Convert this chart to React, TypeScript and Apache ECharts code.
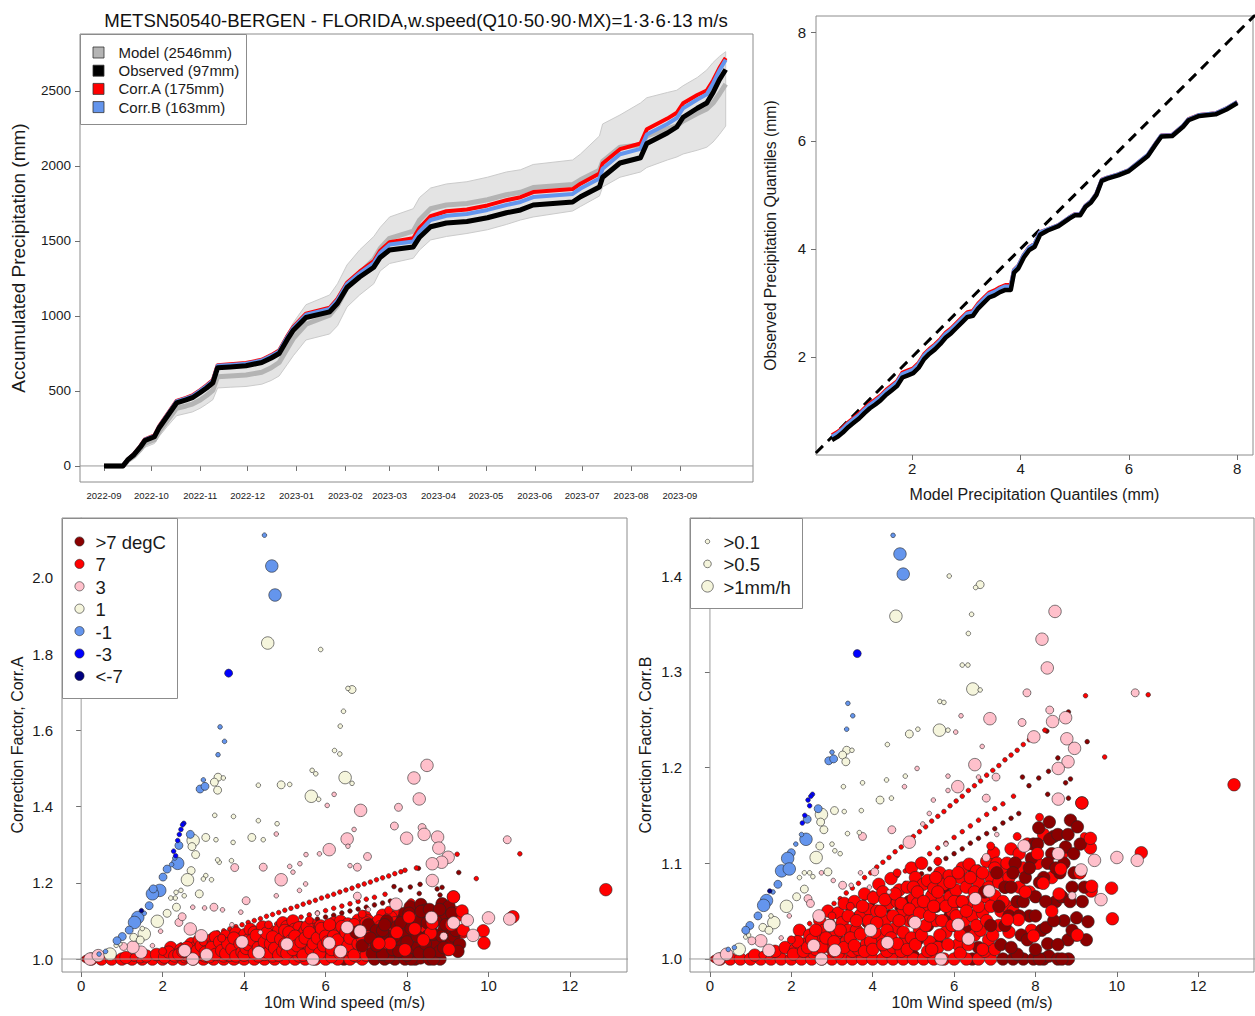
import React, { useEffect, useRef } from "react";
import * as echarts from "echarts";

const FONT = '"Liberation Sans", Arial, Helvetica, sans-serif';
const DAY_MS = 86400000;

const TITLE = "METSN50540-BERGEN - FLORIDA,w.speed(Q10·50·90·MX)=1·3·6·13 m/s";

// ---------- accumulated precipitation (mm) ----------
const DATES = [
  "2022-09-01", "2022-09-13", "2022-09-16", "2022-09-20", "2022-09-24", "2022-09-27",
  "2022-10-03", "2022-10-06", "2022-10-11", "2022-10-17", "2022-10-23", "2022-10-27",
  "2022-11-01", "2022-11-05", "2022-11-09", "2022-11-12", "2022-11-20", "2022-11-30",
  "2022-12-10", "2022-12-16", "2022-12-21", "2022-12-26", "2022-12-30", "2023-01-07",
  "2023-01-22", "2023-01-27", "2023-02-02", "2023-02-10", "2023-02-19", "2023-02-23",
  "2023-03-01", "2023-03-16", "2023-03-20", "2023-03-27", "2023-04-06", "2023-04-19",
  "2023-05-02", "2023-05-14", "2023-05-23", "2023-05-31", "2023-06-25", "2023-06-30",
  "2023-07-12", "2023-07-14", "2023-07-25", "2023-08-07", "2023-08-11", "2023-08-24",
  "2023-08-30", "2023-09-03", "2023-09-12", "2023-09-18", "2023-09-22", "2023-09-26", "2023-09-30",
];
const OBS_ACC = [
  0, 0, 40, 75, 125, 170, 195, 255, 330, 420, 440, 455, 490, 520, 555, 655, 660, 668,
  690, 720, 750, 840, 905, 990, 1027, 1085, 1190, 1260, 1325, 1390, 1440, 1460, 1525, 1595, 1620, 1630,
  1655, 1688, 1707, 1740, 1760, 1795, 1860, 1925, 2020, 2055, 2150, 2220, 2260, 2325, 2385, 2420, 2490, 2575, 2643,
];
const MODEL_ACC = [
  0, 0, 35, 65, 110, 150, 175, 230, 300, 385, 400, 412, 440, 470, 505, 595, 600, 606,
  625, 655, 690, 780, 850, 945, 1005, 1070, 1190, 1285, 1378, 1450, 1518, 1565, 1640, 1715, 1740, 1750,
  1775, 1808, 1825, 1856, 1876, 1908, 1972, 2030, 2125, 2140, 2200, 2248, 2268, 2300, 2350, 2380, 2420, 2480, 2546,
];
const CORRA_ACC = [
  0, 0, 42, 80, 132, 178, 204, 265, 342, 433, 454, 470, 506, 537, 572, 672, 678, 686,
  708, 739, 770, 862, 928, 1015, 1055, 1115, 1222, 1295, 1365, 1435, 1492, 1518, 1588, 1665, 1698, 1710,
  1737, 1772, 1792, 1826, 1846, 1882, 1950, 2016, 2112, 2150, 2245, 2316, 2355, 2418, 2473, 2503, 2570, 2653, 2721,
];
const CORRB_ACC = [
  0, 0, 41, 78, 130, 175, 201, 262, 338, 430, 450, 466, 502, 533, 568, 668, 673, 681,
  703, 734, 764, 856, 921, 1008, 1047, 1106, 1213, 1284, 1352, 1420, 1476, 1496, 1563, 1640, 1668, 1680,
  1707, 1740, 1760, 1793, 1814, 1850, 1916, 1982, 2078, 2114, 2210, 2280, 2320, 2385, 2443, 2478, 2550, 2636, 2709,
];
const BAND_LOW = [
  0, 0, 28, 52, 92, 125, 150, 198, 262, 335, 350, 360, 385, 412, 442, 520, 525, 530,
  545, 570, 600, 675, 735, 840, 880, 935, 1060, 1140, 1215, 1300, 1350, 1385, 1440, 1507, 1530, 1550,
  1575, 1610, 1640, 1660, 1700, 1730, 1800, 1860, 1925, 1960, 1990, 2040, 2060, 2080, 2105, 2125, 2160, 2210, 2266,
];
const BAND_HIGH = [
  0, 0, 45, 82, 130, 172, 200, 262, 340, 432, 452, 466, 500, 535, 572, 672, 680, 688,
  710, 745, 785, 880, 955, 1075, 1140, 1215, 1340, 1440, 1530, 1590, 1660, 1715, 1790, 1853, 1880, 1895,
  1925, 1960, 1975, 2010, 2040, 2080, 2200, 2280, 2340, 2420, 2455, 2490, 2505, 2535, 2590, 2640, 2690, 2730, 2762,
];
const MONTH_TICKS = [
  "2022-09", "2022-10", "2022-11", "2022-12", "2023-01", "2023-02", "2023-03",
  "2023-04", "2023-05", "2023-06", "2023-07", "2023-08", "2023-09",
];
const ACC_TICKS = [0, 500, 1000, 1500, 2000, 2500];
const ACC_LEGEND_LABELS = ["Model (2546mm)", "Observed (97mm)", "Corr.A (175mm)", "Corr.B (163mm)"];

// ---------- quantile-quantile (mm) ----------
const QQ_MODEL = [
  0.52, 0.62, 0.72, 0.82, 0.92, 1.02, 1.12, 1.22, 1.32, 1.42, 1.52, 1.62, 1.72, 1.82, 1.92, 2.02, 2.12,
  2.22, 2.32, 2.42, 2.52, 2.62, 2.72, 2.82, 2.92, 3.02, 3.12, 3.22, 3.32, 3.42, 3.52, 3.62, 3.72, 3.82,
  3.88, 3.96, 4.06, 4.16, 4.26, 4.36, 4.5, 4.7, 4.9, 5.0, 5.1, 5.2, 5.3, 5.4, 5.5, 5.6,
  5.8, 6.0, 6.2, 6.35, 6.5, 6.6, 6.8, 7.0, 7.1, 7.3, 7.6, 7.8, 8.0,
];
const QQ_OBS = [
  0.46, 0.52, 0.6, 0.7, 0.78, 0.86, 0.96, 1.05, 1.12, 1.2, 1.3, 1.38, 1.46, 1.62, 1.66, 1.7, 1.8,
  1.96, 2.06, 2.14, 2.24, 2.36, 2.44, 2.54, 2.64, 2.74, 2.76, 2.9, 3.0, 3.1, 3.14, 3.2, 3.24, 3.24,
  3.56, 3.64, 3.84, 3.98, 4.04, 4.26, 4.34, 4.42, 4.56, 4.62, 4.62, 4.78, 4.86, 5.0, 5.26, 5.3,
  5.36, 5.44, 5.6, 5.72, 5.94, 6.08, 6.09, 6.26, 6.38, 6.46, 6.49, 6.58, 6.7,
];
const QQ_CORRA = [
  0.55, 0.61, 0.69, 0.79, 0.87, 0.95, 1.05, 1.14, 1.21, 1.29, 1.39, 1.47, 1.55, 1.71, 1.75, 1.79, 1.89,
  2.05, 2.15, 2.23, 2.33, 2.45, 2.53, 2.63, 2.73, 2.83, 2.85, 2.99, 3.09, 3.19, 3.23, 3.29, 3.33, 3.33,
  3.61, 3.69, 3.89, 4.03, 4.09, 4.31, 4.36, 4.44, 4.58, 4.64, 4.64, 4.8, 4.88, 5.02, 5.28, 5.32,
  5.38, 5.46, 5.62, 5.74, 5.96, 6.1, 6.11, 6.28, 6.4, 6.48, 6.51, 6.6, 6.72,
];
const QQ_CORRB = [
  0.52, 0.58, 0.66, 0.76, 0.84, 0.92, 1.02, 1.11, 1.18, 1.26, 1.36, 1.44, 1.52, 1.68, 1.72, 1.76, 1.86,
  2.02, 2.12, 2.2, 2.3, 2.42, 2.5, 2.6, 2.7, 2.8, 2.82, 2.96, 3.06, 3.16, 3.2, 3.26, 3.3, 3.3,
  3.6, 3.68, 3.88, 4.02, 4.08, 4.3, 4.355, 4.435, 4.575, 4.635, 4.635, 4.795, 4.875, 5.015, 5.275, 5.315,
  5.375, 5.455, 5.615, 5.735, 5.955, 6.095, 6.105, 6.275, 6.395, 6.475, 6.505, 6.595, 6.715,
];
const QQ_TICKS = [2, 4, 6, 8];

// ---------- correction factor vs wind: [wind m/s, factor, intensity class 1..3] ----------
const WIND_TICKS = [0, 2, 4, 6, 8, 10, 12];
const CORRA_TICKS = [1.0, 1.2, 1.4, 1.6, 1.8, 2.0];
const CORRB_TICKS = [1.0, 1.1, 1.2, 1.3, 1.4];
const TEMP_LABELS = [">7 degC", "7", "3", "1", "-1", "-3", "<-7"];
const RAIN_LABELS = [">0.1", ">0.5", ">1mm/h"];

// warm events: the same in both corrections
const STREAK_RED = [
  [1.7, 1.01, 1], [1.85, 1.015, 1], [2.0, 1.021, 1], [2.15, 1.026, 1], [2.3, 1.031, 1], [2.45, 1.037, 1],
  [2.6, 1.042, 1], [2.75, 1.047, 1], [2.9, 1.053, 1], [3.05, 1.058, 1], [3.2, 1.063, 1], [3.35, 1.069, 1],
  [3.5, 1.074, 1], [3.65, 1.079, 1], [3.8, 1.085, 1], [3.95, 1.09, 1], [4.1, 1.096, 1], [4.25, 1.101, 1],
  [4.4, 1.106, 1], [4.55, 1.112, 1], [4.7, 1.117, 1], [4.85, 1.122, 1], [5.0, 1.128, 1], [5.15, 1.133, 1],
  [5.3, 1.138, 1], [5.45, 1.144, 1], [5.6, 1.149, 1], [5.75, 1.154, 1], [5.9, 1.16, 1], [6.05, 1.165, 1],
  [6.2, 1.17, 1], [6.35, 1.176, 1], [6.5, 1.181, 1], [6.65, 1.186, 1], [6.8, 1.192, 1], [6.95, 1.197, 1],
  [7.1, 1.202, 1], [7.25, 1.208, 1], [7.4, 1.213, 1], [7.55, 1.218, 1], [7.7, 1.224, 1], [7.85, 1.229, 1],
  [7.95, 1.233, 1],
  [2.0, 1.011, 1], [2.2, 1.017, 1], [2.4, 1.023, 1], [2.6, 1.029, 1], [2.8, 1.034, 1], [3.0, 1.04, 1],
  [3.2, 1.046, 1], [3.4, 1.052, 1], [3.6, 1.058, 1], [3.8, 1.063, 1], [4.0, 1.069, 1], [4.2, 1.075, 1],
  [4.4, 1.081, 1], [4.6, 1.087, 1], [4.8, 1.092, 1], [5.0, 1.098, 1], [5.2, 1.104, 1], [5.4, 1.11, 1],
  [5.6, 1.116, 1], [5.8, 1.121, 1], [6.0, 1.127, 1], [6.2, 1.133, 1], [6.4, 1.139, 1], [6.6, 1.145, 1],
  [6.8, 1.151, 1], [7.0, 1.157, 1], [7.2, 1.162, 1], [7.46, 1.17, 1],
  [9.23, 1.275, 1], [10.77, 1.276, 1], [9.7, 1.211, 1], [8.23, 1.239, 1],
];
const STREAK_DARK = [
  [2.2, 1.01, 1], [2.4, 1.016, 1], [2.6, 1.021, 1], [2.8, 1.026, 1], [3.0, 1.031, 1], [3.2, 1.037, 1],
  [3.4, 1.042, 1], [3.6, 1.047, 1], [3.8, 1.052, 1], [4.0, 1.058, 1], [4.2, 1.063, 1], [4.4, 1.068, 1],
  [4.6, 1.073, 1], [4.8, 1.079, 1], [5.0, 1.084, 1], [5.2, 1.089, 1], [5.4, 1.094, 1], [5.6, 1.1, 1],
  [5.8, 1.105, 1], [6.0, 1.11, 1], [6.2, 1.115, 1], [6.4, 1.121, 1], [6.6, 1.126, 1], [6.8, 1.131, 1],
  [7.0, 1.136, 1], [7.2, 1.142, 1], [7.4, 1.147, 1], [7.59, 1.152, 1],
  [2.6, 1.01, 1], [2.8, 1.014, 1], [3.0, 1.018, 1], [3.2, 1.023, 1], [3.4, 1.027, 1], [3.6, 1.031, 1],
  [3.8, 1.036, 1], [4.0, 1.04, 1], [4.2, 1.044, 1], [4.4, 1.049, 1], [4.6, 1.053, 1], [4.8, 1.057, 1],
  [5.0, 1.062, 1], [5.2, 1.066, 1], [5.4, 1.07, 1], [5.6, 1.075, 1], [5.8, 1.079, 1], [6.0, 1.083, 1],
  [6.2, 1.088, 1], [6.4, 1.092, 1], [6.6, 1.096, 1], [6.8, 1.101, 1], [7.0, 1.105, 1],
  [9.27, 1.227, 1], [8.81, 1.258, 1], [8.28, 1.238, 1], [8.08, 1.189, 1], [8.32, 1.196, 1], [8.74, 1.184, 1],
  [7.84, 1.181, 1], [8.86, 1.188, 1], [8.3, 1.172, 1], [8.81, 1.168, 1], [8.55, 1.21, 1], [7.68, 1.19, 1],
];
// warmest events at moderate wind, partly hidden under the 7 degC cloud
const WARM_DARK_LOW = [
  [3.8, 1.004, 3], [4.3, 1.012, 3], [4.7, 1.045, 3], [4.9, 1.06, 3], [5.0, 1.003, 3], [5.1, 1.02, 3],
  [5.35, 1.035, 3], [5.55, 1.055, 3], [5.6, 1.015, 3], [5.75, 1.075, 3], [5.9, 1.045, 3], [6.1, 1.06, 3],
  [6.2, 1.018, 3], [6.3, 1.03, 3], [6.45, 1.085, 3], [6.6, 1.012, 3], [6.45, 1.0, 3],
];
const WARM_RED = [
  [0.05, 1.0, 1], [0.12, 1.0, 2],
  [0.25, 1.0, 3], [0.5, 1.0, 3], [0.75, 1.0, 3], [1.0, 1.0, 3], [1.25, 1.0, 3], [1.5, 1.0, 3], [1.75, 1.0, 3],
  [2.0, 1.0, 3], [2.25, 1.0, 3], [2.5, 1.0, 3], [2.75, 1.0, 3], [3.0, 1.0, 3], [3.25, 1.0, 3], [3.5, 1.0, 3],
  [3.75, 1.0, 3], [4.0, 1.0, 3], [4.25, 1.0, 3], [4.5, 1.0, 3], [4.75, 1.0, 3], [5.0, 1.0, 3], [5.25, 1.0, 3],
  [5.5, 1.0, 3], [5.75, 1.0, 3], [6.0, 1.0, 3], [6.3, 1.0, 3], [6.6, 1.0, 3], [6.9, 1.0, 3],
  [1.1, 1.004, 3], [1.45, 1.006, 3], [1.6, 1.008, 3], [1.85, 1.012, 3], [2.1, 1.01, 3], [2.35, 1.016, 3],
  [2.55, 1.006, 3], [2.2, 1.03, 3], [2.45, 1.025, 3], [2.6, 1.01, 3], [2.65, 1.02, 3], [2.7, 1.04, 3],
  [2.8, 1.03, 3], [2.9, 1.05, 3], [2.95, 1.012, 3], [3.05, 1.008, 3], [3.1, 1.026, 3], [3.15, 1.048, 3],
  [3.25, 1.038, 3], [3.3, 1.058, 3], [3.35, 1.018, 3], [3.4, 1.03, 3], [3.5, 1.008, 3], [3.55, 1.06, 3],
  [3.6, 1.03, 3], [3.65, 1.01, 3], [3.7, 1.046, 3], [3.8, 1.068, 3], [3.85, 1.016, 3], [3.9, 1.052, 3],
  [3.95, 1.034, 3], [4.02, 1.064, 3], [4.1, 1.05, 3], [4.15, 1.078, 3], [4.2, 1.022, 3], [4.25, 1.07, 3],
  [4.3, 1.04, 3], [4.35, 1.008, 3], [4.4, 1.058, 3], [4.45, 1.084, 3], [4.5, 1.012, 3], [4.55, 1.032, 3],
  [4.6, 1.06, 3], [4.65, 1.072, 3], [4.7, 1.008, 3], [4.75, 1.05, 3], [4.8, 1.02, 3], [4.85, 1.075, 3],
  [4.9, 1.04, 3], [4.95, 1.095, 3], [5.0, 1.063, 3], [5.05, 1.085, 3], [5.1, 1.058, 3], [5.15, 1.03, 3],
  [5.2, 1.1, 3], [5.24, 1.078, 3], [5.3, 1.05, 3], [5.35, 1.008, 3], [5.35, 1.082, 3], [5.4, 1.018, 3],
  [5.45, 1.066, 3], [5.5, 1.074, 3], [5.55, 1.04, 3], [5.6, 1.012, 3], [5.65, 1.09, 3], [5.7, 1.06, 3],
  [5.75, 1.078, 3], [5.8, 1.028, 3], [5.88, 1.087, 3], [5.9, 1.065, 3], [5.95, 1.05, 3], [6.0, 1.035, 3],
  [6.05, 1.072, 3], [6.1, 1.015, 3], [6.15, 1.085, 3], [6.15, 1.006, 3], [6.2, 1.095, 3], [6.25, 1.04, 3],
  [6.3, 1.075, 3], [6.37, 1.099, 3], [6.4, 1.06, 3], [6.45, 1.045, 3], [6.5, 1.025, 3], [6.55, 1.092, 3],
  [6.6, 1.08, 3], [6.65, 1.03, 3], [6.7, 1.048, 3], [6.75, 1.065, 3], [6.75, 1.008, 3], [6.8, 1.102, 3],
  [6.85, 1.02, 3], [6.9, 1.085, 3], [6.97, 1.111, 3], [7.0, 1.066, 3], [7.05, 1.1, 3], [7.1, 1.035, 3],
  [7.15, 1.05, 3], [7.2, 1.09, 3], [7.25, 1.075, 3], [7.3, 1.055, 3], [7.35, 1.028, 3], [7.4, 1.115, 3],
  [7.5, 1.1, 3], [7.6, 1.075, 3], [7.8, 1.12, 3], [8.05, 1.1, 3], [8.2, 1.13, 3], [8.4, 1.085, 3],
  [8.65, 1.11, 3], [9.0, 1.025, 3], [9.09, 1.09, 3], [9.14, 1.163, 3], [9.35, 1.116, 3], [9.37, 1.071, 3],
  [9.87, 1.074, 3], [9.89, 1.042, 3], [10.6, 1.111, 3], [12.88, 1.182, 3],
  [2.05, 1.005, 3], [2.15, 1.018, 3], [2.3, 1.008, 3], [2.4, 1.012, 3], [2.5, 1.02, 3], [2.6, 1.03, 3],
  [2.75, 1.012, 3], [2.85, 1.022, 3], [2.95, 1.035, 3], [3.05, 1.018, 3], [3.15, 1.006, 3], [3.2, 1.03, 3],
  [3.3, 1.012, 3], [3.4, 1.045, 3], [3.45, 1.022, 3], [3.55, 1.014, 3], [3.6, 1.04, 3], [3.7, 1.026, 3],
  [3.75, 1.055, 3], [3.8, 1.008, 3], [3.9, 1.04, 3], [3.95, 1.018, 3], [4.0, 1.01, 3], [4.05, 1.028, 3],
  [4.1, 1.038, 3], [4.2, 1.05, 3], [4.25, 1.015, 3], [4.3, 1.062, 3], [4.35, 1.03, 3], [4.45, 1.022, 3],
  [4.5, 1.045, 3], [4.55, 1.068, 3], [4.6, 1.016, 3], [4.65, 1.04, 3], [4.7, 1.058, 3], [4.75, 1.028, 3],
  [4.85, 1.01, 3], [4.9, 1.052, 3], [4.95, 1.022, 3], [5.0, 1.075, 3], [5.0, 1.04, 3], [5.05, 1.015, 3],
  [5.1, 1.07, 3], [5.15, 1.048, 3], [5.2, 1.025, 3], [5.25, 1.06, 3], [5.3, 1.035, 3], [5.4, 1.045, 3],
  [5.45, 1.01, 3], [5.5, 1.055, 3], [5.55, 1.085, 3], [5.6, 1.07, 3], [5.65, 1.025, 3], [5.7, 1.04, 3],
  [5.8, 1.055, 3], [5.85, 1.015, 3], [5.9, 1.08, 3], [5.95, 1.035, 3], [6.0, 1.06, 3], [6.05, 1.045, 3],
  [6.1, 1.09, 3], [6.15, 1.025, 3], [6.2, 1.06, 3], [6.3, 1.05, 3], [6.35, 1.015, 3], [6.4, 1.085, 3],
  [6.5, 1.07, 3], [6.55, 1.035, 3], [6.6, 1.055, 3], [6.7, 1.09, 3], [6.7, 1.01, 3], [6.8, 1.04, 3],
  [6.85, 1.075, 3], [6.9, 1.055, 3], [6.95, 1.025, 3], [7.0, 1.095, 3], [7.0, 1.01, 3], [7.1, 1.08, 3],
  [7.2, 1.06, 3], [7.3, 1.1, 3], [7.35, 1.085, 3], [7.45, 1.05, 3], [7.6, 1.11, 3], [7.7, 1.095, 3],
  [7.85, 1.07, 3], [7.9, 1.03, 3],
  [1.3, 1.004, 2], [2.0, 1.02, 2], [3.0, 1.045, 2], [3.45, 1.055, 2], [4.6, 1.09, 2], [5.6, 1.102, 2],
  [6.9, 1.118, 2], [7.55, 1.128, 2], [8.1, 1.148, 2], [9.2, 1.128, 2],
];
const WARM_DARK = [
  [7.2, 1.0, 3], [7.45, 1.0, 3], [7.7, 1.0, 3], [7.95, 1.0, 3], [8.2, 1.0, 3], [8.33, 1.003, 3],
  [8.55, 1.0, 3], [8.81, 1.0, 3], [7.55, 1.005, 3], [8.1, 1.0, 3], [8.65, 1.0, 3],
  [6.75, 1.07, 3], [6.9, 1.035, 3], [7.05, 1.09, 3], [7.15, 1.015, 3], [7.25, 1.075, 3], [7.35, 1.045, 3],
  [7.4, 1.012, 3], [7.5, 1.1, 3], [7.55, 1.06, 3], [7.65, 1.025, 3], [7.75, 1.085, 3], [7.85, 1.045, 3],
  [7.9, 1.105, 3], [7.95, 1.12, 3], [8.0, 1.065, 3], [8.0, 1.01, 3], [8.08, 1.137, 3], [8.15, 1.03, 3],
  [8.2, 1.085, 3], [8.26, 1.033, 3], [8.3, 1.016, 3], [8.34, 1.143, 3], [8.4, 1.11, 3], [8.45, 1.128, 3],
  [8.5, 1.06, 3], [8.6, 1.09, 3], [8.7, 1.04, 3], [8.74, 1.117, 3], [8.8, 1.02, 3], [8.86, 1.145, 3],
  [8.9, 1.075, 3], [8.94, 1.11, 3], [9.01, 1.043, 3], [9.03, 1.138, 3], [9.15, 1.06, 3], [9.29, 1.039, 3],
  [7.1, 1.055, 3], [7.25, 1.035, 3], [7.4, 1.075, 3], [7.45, 1.09, 3], [7.6, 1.045, 3], [7.7, 1.06, 3],
  [7.8, 1.02, 3], [7.85, 1.095, 3], [8.0, 1.045, 3], [8.05, 1.12, 3], [8.1, 1.08, 3], [8.25, 1.06, 3],
  [8.3, 1.1, 3], [8.35, 1.125, 3], [8.45, 1.04, 3], [8.5, 1.095, 3], [8.55, 1.13, 3], [8.65, 1.065, 3],
  [8.7, 1.1, 3], [8.8, 1.13, 3], [8.85, 1.06, 3], [8.95, 1.09, 3], [9.1, 1.12, 3], [9.2, 1.075, 3],
  [9.25, 1.02, 3], [8.55, 1.015, 3], [8.9, 1.03, 3],
];
// 7 degC events at strong wind, lying over the warmest ones
const WARM_RED_TOP = [
  [9.35, 1.126, 3], [9.38, 1.076, 3], [9.03, 1.025, 3], [8.58, 1.068, 3], [8.19, 1.079, 3], [7.95, 1.024, 3],
  [7.58, 1.041, 3], [7.31, 1.041, 3], [8.62, 1.094, 3], [7.75, 1.07, 3], [8.4, 1.05, 3], [8.05, 1.11, 3],
  [9.14, 1.163, 3], [9.09, 1.09, 3],
];

// cooler events: Corr.A
const PINK_A = [
  [8.49, 1.508, 3], [8.17, 1.475, 3], [8.3, 1.42, 3], [7.79, 1.398, 2], [6.86, 1.39, 3], [7.69, 1.349, 2],
  [7.99, 1.317, 3], [8.37, 1.345, 2], [8.42, 1.327, 3], [8.75, 1.32, 3], [8.78, 1.291, 3], [6.53, 1.315, 3],
  [6.09, 1.287, 3], [7.03, 1.269, 2], [9.01, 1.267, 3], [8.85, 1.254, 3], [8.62, 1.25, 3], [10.46, 1.313, 2],
  [8.62, 1.206, 3], [6.78, 1.241, 2], [4.91, 1.208, 3], [4.47, 1.241, 2], [3.77, 1.24, 2], [4.05, 1.153, 2],
  [3.26, 1.136, 2], [2.68, 1.079, 3], [2.95, 1.061, 3], [2.4, 1.096, 2], [2.48, 1.111, 2], [10.0, 1.108, 3],
  [10.52, 1.105, 3], [9.48, 1.102, 3], [9.62, 1.062, 3], [9.14, 1.095, 3], [7.73, 1.144, 3], [8.6, 1.109, 3],
  [6.78, 1.165, 2], [6.09, 1.042, 3], [6.37, 1.02, 3], [6.53, 1.083, 3], [6.85, 1.073, 3], [5.05, 1.039, 3],
  [5.69, 1.0, 3], [2.74, 1.0, 3], [0.22, 1.0, 3], [0.42, 1.009, 3], [1.47, 1.018, 3], [1.27, 1.031, 3],
  [1.04, 1.033, 2], [2.54, 1.022, 3], [3.08, 1.011, 3], [4.36, 1.017, 3], [8.9, 1.06, 2], [3.95, 1.045, 3],
  [6.21, 1.432, 1], [6.04, 1.403, 1], [6.7, 1.34, 1], [6.55, 1.296, 1], [5.85, 1.276, 1], [5.52, 1.274, 1],
  [5.37, 1.25, 1], [5.12, 1.243, 1], [4.79, 1.328, 1], [4.79, 1.166, 1], [5.36, 1.18, 1], [5.51, 1.197, 1],
  [3.92, 1.123, 1], [3.47, 1.129, 1], [3.03, 1.134, 1], [2.74, 1.136, 1], [1.95, 1.073, 1], [1.75, 1.035, 1],
  [5.2, 1.228, 1], [6.6, 1.245, 1], [7.05, 1.13, 1], [5.8, 1.12, 1], [4.4, 1.07, 1], [3.7, 1.09, 1],
];
const BEIGE_A = [
  [4.58, 1.829, 3], [5.88, 1.812, 1], [6.65, 1.707, 2], [6.55, 1.71, 1], [6.44, 1.65, 1], [6.36, 1.611, 1],
  [6.22, 1.547, 1], [6.35, 1.538, 1], [5.67, 1.495, 1], [5.76, 1.486, 1], [6.48, 1.476, 3], [6.65, 1.461, 1],
  [5.65, 1.427, 3], [5.83, 1.419, 1], [4.91, 1.457, 2], [5.12, 1.458, 1], [4.35, 1.456, 1], [3.36, 1.477, 2],
  [3.27, 1.464, 2], [3.35, 1.443, 2], [3.49, 1.475, 1], [3.28, 1.377, 1], [3.74, 1.374, 1], [4.19, 1.319, 2],
  [4.47, 1.313, 1], [4.35, 1.363, 1], [4.81, 1.355, 1], [2.75, 1.311, 3], [3.06, 1.319, 2], [3.31, 1.313, 1],
  [2.81, 1.274, 2], [2.72, 1.295, 2], [2.7, 1.232, 2], [2.61, 1.208, 3], [2.9, 1.171, 2], [2.53, 1.166, 1],
  [2.31, 1.16, 1], [2.34, 1.136, 2], [1.87, 1.099, 3], [2.11, 1.12, 2], [1.55, 1.066, 3], [1.29, 1.057, 2],
  [0.71, 1.013, 3], [0.86, 1.036, 1], [3.39, 1.254, 1], [3.69, 1.258, 1], [3.06, 1.219, 1], [3.2, 1.208, 1],
  [3.73, 1.306, 1], [2.33, 1.175, 1], [2.2, 1.16, 1], [1.5, 1.08, 1], [1.45, 1.05, 2], [0.95, 1.04, 1],
  [2.45, 1.18, 1], [3.0, 1.21, 1], [3.35, 1.26, 1],
];
const CBLUE_A = [
  [4.5, 2.112, 1], [4.68, 2.031, 3], [4.76, 1.955, 3], [2.92, 1.446, 2], [3.04, 1.453, 2], [3.0, 1.47, 1],
  [3.41, 1.609, 1], [3.52, 1.571, 1], [3.36, 1.536, 1], [2.37, 1.251, 3], [2.4, 1.298, 2], [2.68, 1.327, 2],
  [2.01, 1.215, 2], [1.93, 1.18, 3], [1.75, 1.171, 3], [1.77, 1.184, 2], [1.67, 1.14, 2], [1.39, 1.109, 3],
  [1.31, 1.096, 3], [1.18, 1.076, 2], [1.01, 1.059, 2], [0.88, 1.048, 2], [0.44, 1.013, 1], [2.11, 1.236, 2],
  [2.22, 1.248, 1], [2.3, 1.265, 1], [1.55, 1.12, 1], [0.6, 1.02, 1],
];
const BLUE_A = [
  [3.62, 1.75, 2], [2.52, 1.356, 1], [2.49, 1.352, 1], [2.41, 1.327, 1], [2.45, 1.34, 1], [2.37, 1.311, 1],
  [2.27, 1.283, 1], [2.32, 1.271, 1],
];
const NAVY_A = [[1.48, 1.127, 1]];

// cooler events: Corr.B
const PINK_B = [
  [8.48, 1.363, 3], [8.16, 1.334, 3], [8.29, 1.304, 3], [7.79, 1.278, 2], [6.88, 1.251, 3], [7.67, 1.247, 2],
  [7.96, 1.232, 3], [8.35, 1.26, 2], [8.42, 1.248, 3], [8.74, 1.252, 3], [8.77, 1.23, 3], [6.51, 1.203, 3],
  [6.09, 1.18, 3], [7.03, 1.19, 2], [8.96, 1.22, 3], [8.8, 1.206, 3], [8.56, 1.199, 3], [10.45, 1.278, 2],
  [8.56, 1.167, 3], [6.79, 1.168, 2], [4.9, 1.122, 3], [4.47, 1.135, 2], [3.75, 1.128, 2], [4.05, 1.091, 2],
  [3.26, 1.077, 2], [2.68, 1.045, 3], [2.94, 1.035, 3], [2.41, 1.063, 2], [2.47, 1.058, 2], [10.0, 1.106, 3],
  [10.5, 1.103, 3], [9.45, 1.103, 3], [9.61, 1.062, 3], [9.12, 1.093, 3], [7.72, 1.118, 3], [8.56, 1.11, 3],
  [6.79, 1.106, 2], [6.1, 1.036, 3], [6.35, 1.021, 3], [6.52, 1.063, 3], [6.86, 1.071, 3], [5.04, 1.038, 3],
  [5.68, 1.0, 3], [2.74, 1.0, 3], [0.22, 1.0, 3], [0.41, 1.005, 3], [1.45, 1.009, 3], [1.25, 1.019, 3],
  [1.03, 1.019, 2], [2.55, 1.014, 3], [3.07, 1.009, 3], [4.36, 1.017, 3], [8.9, 1.066, 2], [3.95, 1.03, 3],
  [6.17, 1.254, 1], [6.04, 1.237, 1], [6.69, 1.222, 1], [5.85, 1.191, 1], [5.85, 1.176, 1], [5.49, 1.166, 1],
  [5.39, 1.152, 1], [5.23, 1.141, 1], [4.78, 1.18, 1], [5.09, 1.199, 1], [3.92, 1.075, 1], [3.47, 1.077, 1],
  [3.03, 1.082, 1], [2.74, 1.09, 1], [1.95, 1.045, 1], [1.75, 1.022, 1], [6.6, 1.19, 1], [7.05, 1.13, 1],
  [5.8, 1.12, 1], [4.4, 1.07, 1], [3.7, 1.09, 1],
];
const BEIGE_B = [
  [4.57, 1.358, 3], [5.88, 1.4, 1], [6.64, 1.391, 2], [6.53, 1.388, 1], [6.43, 1.36, 1], [6.35, 1.34, 1],
  [6.2, 1.307, 1], [6.34, 1.307, 1], [5.65, 1.269, 1], [5.75, 1.268, 1], [6.46, 1.282, 3], [6.64, 1.281, 1],
  [5.64, 1.239, 3], [5.85, 1.239, 1], [4.9, 1.235, 2], [5.11, 1.24, 1], [4.36, 1.224, 1], [3.36, 1.218, 2],
  [3.26, 1.213, 2], [3.34, 1.206, 2], [3.49, 1.218, 1], [3.28, 1.18, 1], [3.75, 1.184, 1], [4.18, 1.166, 2],
  [4.46, 1.168, 1], [4.34, 1.187, 1], [4.8, 1.191, 1], [2.74, 1.151, 3], [3.06, 1.155, 2], [3.3, 1.154, 1],
  [2.8, 1.135, 2], [2.72, 1.143, 2], [2.7, 1.118, 2], [2.61, 1.106, 3], [2.9, 1.091, 2], [2.53, 1.086, 1],
  [2.32, 1.073, 2], [2.13, 1.065, 2], [1.88, 1.055, 3], [1.57, 1.038, 3], [1.3, 1.033, 2], [0.72, 1.01, 3],
  [0.88, 1.023, 1], [3.38, 1.131, 1], [3.67, 1.132, 1], [3.07, 1.113, 1], [3.2, 1.11, 1], [3.72, 1.155, 1],
  [2.32, 1.09, 1], [2.45, 1.09, 1], [2.2, 1.085, 1], [1.5, 1.045, 1], [1.45, 1.03, 2], [0.95, 1.025, 1],
  [3.0, 1.12, 1],
];
const CBLUE_B = [
  [4.5, 1.4425, 1], [4.67, 1.423, 3], [4.75, 1.402, 3], [2.92, 1.207, 2], [3.04, 1.209, 2], [3.0, 1.216, 1],
  [3.39, 1.267, 1], [3.51, 1.254, 1], [3.36, 1.24, 1], [2.66, 1.157, 2], [2.39, 1.146, 2], [2.36, 1.125, 3],
  [2.0, 1.111, 2], [1.91, 1.105, 3], [1.76, 1.092, 3], [1.95, 1.094, 3], [1.67, 1.078, 2], [1.39, 1.061, 3],
  [1.32, 1.056, 3], [1.18, 1.045, 2], [0.98, 1.035, 2], [0.88, 1.03, 2], [0.45, 1.01, 1], [2.11, 1.12, 1],
  [2.25, 1.13, 1], [1.55, 1.07, 1], [0.6, 1.012, 1],
];
const BLUE_B = [
  [3.62, 1.319, 2], [2.52, 1.172, 1], [2.48, 1.17, 1], [2.41, 1.166, 1], [2.45, 1.16, 1], [2.27, 1.142, 1],
  [2.33, 1.15, 1],
];
const NAVY_B = [[1.47, 1.071, 1]];

// ---------- styling ----------
const TEMP_COLORS = ["#8B0000", "#FF0000", "#FFC0CB", "#F5F5DC", "#6495ED", "#0000FF", "#000080"];
const ACC_COLORS = ["#b4b4b4", "#000000", "#FF0000", "#6495ED"];
const SIZE_PX = [0, 4.6, 8, 12.5];
const BOX = "#8c8c8c";
const INK = "#1a1a1a";

function toMs(s: string) {
  const [y, m, d] = s.split("-").map(Number);
  return new Date(y, m - 1, d || 1).getTime();
}

function fmtMonth(v: number) {
  const d = new Date(v);
  return `${d.getFullYear()}-${String(d.getMonth() + 1).padStart(2, "0")}`;
}

function axis(ticks: number[], fontSize: number, margin: number, formatter?: any) {
  return {
    axisLine: { show: false },
    axisTick: { show: true, customValues: ticks, length: 5, lineStyle: { color: "#6f6f6f", width: 1 } },
    axisLabel: {
      customValues: ticks,
      fontSize,
      color: INK,
      fontFamily: FONT,
      margin,
      formatter: formatter || ((v: number) => String(v)),
    },
    splitLine: { show: false },
  };
}

function nameStyle(size: number) {
  return { fontSize: size, color: INK, fontFamily: FONT };
}

function scatter(idx: number, data: number[][], color: string) {
  return {
    type: "scatter",
    xAxisIndex: idx,
    yAxisIndex: idx,
    data,
    symbol: "circle",
    symbolSize: (v: number[]) => SIZE_PX[v[2]],
    itemStyle: { color, borderColor: "#262626", borderWidth: 0.6, opacity: 1 },
    silent: true,
  };
}

function refLine(idx: number, data: number[][], color = "#9c9c9c", width = 1, type: any = "solid") {
  return {
    type: "line",
    xAxisIndex: idx,
    yAxisIndex: idx,
    data,
    symbol: "none",
    silent: true,
    lineStyle: { color, width, type },
  };
}

function panelSeries(idx: number, pink: number[][], beige: number[][], cblue: number[][], blue: number[][], navy: number[][]) {
  return [
    scatter(idx, STREAK_DARK, TEMP_COLORS[0]),
    scatter(idx, STREAK_RED, TEMP_COLORS[1]),
    scatter(idx, WARM_DARK_LOW, TEMP_COLORS[0]),
    scatter(idx, WARM_RED, TEMP_COLORS[1]),
    scatter(idx, WARM_DARK, TEMP_COLORS[0]),
    scatter(idx, WARM_RED_TOP, TEMP_COLORS[1]),
    scatter(idx, pink, TEMP_COLORS[2]),
    scatter(idx, beige, TEMP_COLORS[3]),
    scatter(idx, cblue, TEMP_COLORS[4]),
    scatter(idx, blue, TEMP_COLORS[5]),
    scatter(idx, navy, TEMP_COLORS[6]),
    refLine(idx, [[-5, 1], [20, 1]]),
    refLine(idx, [[0, 0.5], [0, 3]]),
  ];
}

function buildOption() {
  const t = DATES.map(toMs);
  const start = toMs(DATES[0]);
  const xMin = start - 15.2 * DAY_MS;
  const xMax = start + 411.3 * DAY_MS;
  const monthMs = MONTH_TICKS.map(toMs);
  const pair = (vals: number[]) => t.map((x, i) => [x, vals[i]]);
  const qq = (vals: number[]) => QQ_MODEL.map((x, i) => [x, vals[i]]);

  const accLine = (data: number[][], color: string, width: number) => ({
    type: "line",
    xAxisIndex: 0,
    yAxisIndex: 0,
    data,
    symbol: "none",
    silent: true,
    lineStyle: { color, width, join: "round" },
  });

  const qqLine = (data: number[][], color: string, width: number) => ({
    type: "line",
    xAxisIndex: 1,
    yAxisIndex: 1,
    data,
    symbol: "none",
    silent: true,
    lineStyle: { color, width, join: "round" },
  });

  // model spread: polygon between the low and high envelopes
  const bandSeries = {
    type: "custom",
    xAxisIndex: 0,
    yAxisIndex: 0,
    silent: true,
    data: [[t[0], BAND_LOW[0]]],
    renderItem: (_p: any, api: any) => {
      const upper = t.map((x, i) => api.coord([x, BAND_HIGH[i]]));
      const lower = t.map((x, i) => api.coord([x, BAND_LOW[i]])).reverse();
      return {
        type: "polygon",
        shape: { points: upper.concat(lower) },
        style: { fill: "#e4e4e4", stroke: "#cbcbcb", lineWidth: 1 },
      };
    },
  };

  const graphics: any[] = [];
  // legend: accumulated precipitation
  graphics.push({ type: "rect", z: 100, shape: { x: 80.5, y: 34.5, width: 166, height: 90 }, style: { fill: "#fff", stroke: BOX, lineWidth: 1 } });
  ACC_LEGEND_LABELS.forEach((label, i) => {
    const cy = 52.5 + i * 18.2;
    graphics.push({ type: "rect", z: 101, shape: { x: 93, y: cy - 5.5, width: 11, height: 11 }, style: { fill: ACC_COLORS[i], stroke: "#333", lineWidth: 0.8 } });
    graphics.push({ type: "text", z: 101, x: 118.5, y: cy, style: { text: label, fill: INK, fontSize: 15, fontFamily: FONT, verticalAlign: "middle", textVerticalAlign: "middle" } });
  });
  // legend: temperature classes
  graphics.push({ type: "rect", z: 100, shape: { x: 62.5, y: 518.5, width: 115, height: 180 }, style: { fill: "#fff", stroke: BOX, lineWidth: 1 } });
  TEMP_LABELS.forEach((label, i) => {
    const cy = 541.5 + i * 22.4;
    graphics.push({ type: "circle", z: 101, shape: { cx: 79.5, cy, r: 4.6 }, style: { fill: TEMP_COLORS[i], stroke: "#262626", lineWidth: 0.6 } });
    graphics.push({ type: "text", z: 101, x: 95.5, y: cy + 1, style: { text: label, fill: INK, fontSize: 18.5, fontFamily: FONT, verticalAlign: "middle", textVerticalAlign: "middle" } });
  });
  // legend: rain intensity classes
  graphics.push({ type: "rect", z: 100, shape: { x: 690.5, y: 518.5, width: 112, height: 90 }, style: { fill: "#fff", stroke: BOX, lineWidth: 1 } });
  const rainR = [2.2, 3.8, 5.8];
  RAIN_LABELS.forEach((label, i) => {
    const cy = 541.5 + i * 22.4;
    graphics.push({ type: "circle", z: 101, shape: { cx: 707.5, cy, r: rainR[i] }, style: { fill: TEMP_COLORS[3], stroke: "#262626", lineWidth: 0.6 } });
    graphics.push({ type: "text", z: 101, x: 723.5, y: cy + 1, style: { text: label, fill: INK, fontSize: 18.5, fontFamily: FONT, verticalAlign: "middle", textVerticalAlign: "middle" } });
  });

  const gridBase = { show: true, borderColor: BOX, borderWidth: 1, backgroundColor: "transparent", containLabel: false };

  return {
    animation: false,
    backgroundColor: "#ffffff",
    textStyle: { fontFamily: FONT },
    title: {
      text: TITLE,
      left: 411,
      top: 6,
      textAlign: "center",
      textStyle: { fontSize: 18.6, fontWeight: "normal", color: "#111", fontFamily: FONT },
    },
    grid: [
      { ...gridBase, left: 80, top: 34, width: 673, height: 448 },
      { ...gridBase, left: 816, top: 16, width: 437, height: 439 },
      { ...gridBase, left: 62, top: 518, width: 565, height: 454 },
      { ...gridBase, left: 690, top: 518, width: 564, height: 454 },
    ],
    xAxis: [
      { gridIndex: 0, type: "value", min: xMin, max: xMax, ...axis(monthMs, 9.5, 8, fmtMonth) },
      {
        gridIndex: 1, type: "value", min: 0.225, max: 8.29, ...axis(QQ_TICKS, 15, 6),
        name: "Model Precipitation Quantiles (mm)", nameLocation: "middle", nameGap: 31, nameTextStyle: nameStyle(16),
      },
      {
        gridIndex: 2, type: "value", min: -0.47, max: 13.4, ...axis(WIND_TICKS, 15, 6),
        name: "10m Wind speed (m/s)", nameLocation: "middle", nameGap: 22, nameTextStyle: nameStyle(16),
      },
      {
        gridIndex: 3, type: "value", min: -0.49, max: 13.37, ...axis(WIND_TICKS, 15, 6),
        name: "10m Wind speed (m/s)", nameLocation: "middle", nameGap: 22, nameTextStyle: nameStyle(16),
      },
    ],
    yAxis: [
      {
        gridIndex: 0, type: "value", min: -107, max: 2880, ...axis(ACC_TICKS, 13.5, 9),
        name: "Accumulated Precipitation (mm)", nameLocation: "middle", nameGap: 52, nameTextStyle: nameStyle(19),
      },
      {
        gridIndex: 1, type: "value", min: 0.185, max: 8.31, ...axis(QQ_TICKS, 15, 10),
        name: "Observed Precipitation Quantiles (mm)", nameLocation: "middle", nameGap: 38, nameTextStyle: nameStyle(15.7),
      },
      {
        gridIndex: 2, type: "value", min: 0.966, max: 2.157, ...axis(CORRA_TICKS, 15, 9, (v: number) => v.toFixed(1)),
        name: "Correction Factor, Corr.A", nameLocation: "middle", nameGap: 37, nameTextStyle: nameStyle(16),
      },
      {
        gridIndex: 3, type: "value", min: 0.9864, max: 1.4606, ...axis(CORRB_TICKS, 15, 8, (v: number) => v.toFixed(1)),
        name: "Correction Factor, Corr.B", nameLocation: "middle", nameGap: 37, nameTextStyle: nameStyle(16),
      },
    ],
    series: [
      // accumulated precipitation
      bandSeries,
      refLine(0, [[xMin, 0], [xMax, 0]], "#9a9a9a", 1),
      accLine(pair(MODEL_ACC), ACC_COLORS[0], 5),
      accLine(pair(CORRA_ACC), ACC_COLORS[2], 4),
      accLine(pair(CORRB_ACC), ACC_COLORS[3], 4),
      accLine(pair(OBS_ACC), ACC_COLORS[1], 5),
      // quantiles
      refLine(1, [[0, 0], [10, 10]], "#000", 3, [10, 7]),
      qqLine(qq(QQ_CORRA), "#FF0000", 4),
      qqLine(qq(QQ_CORRB), "#6495ED", 4.5),
      qqLine(qq(QQ_OBS), "#000", 4.5),
      // correction factors
      ...panelSeries(2, PINK_A, BEIGE_A, CBLUE_A, BLUE_A, NAVY_A),
      ...panelSeries(3, PINK_B, BEIGE_B, CBLUE_B, BLUE_B, NAVY_B),
    ],
    graphic: graphics,
  };
}

export default function App() {
  const ref = useRef<HTMLDivElement>(null);
  useEffect(() => {
    if (!ref.current) return;
    const chart = echarts.init(ref.current, null, { renderer: "svg" });
    chart.setOption(buildOption() as any);
    return () => chart.dispose();
  }, []);
  return (
    <div
      ref={ref}
      style={{ position: "fixed", left: 0, top: 0, width: 1255, height: 1016, background: "#fff" }}
    />
  );
}
